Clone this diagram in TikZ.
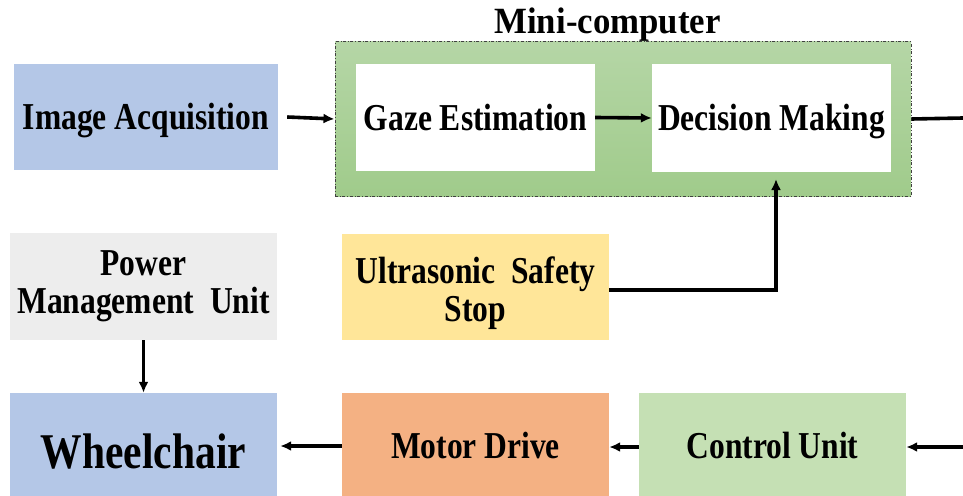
\documentclass[tikz,border=0pt]{standalone}
\usepackage{fontspec}
\setmainfont{Liberation Serif}[FakeStretch=0.83]
\newfontfamily\titlefont{Liberation Serif}[FakeStretch=0.94]
\usetikzlibrary{arrows.meta}
\definecolor{cblue}{HTML}{B4C7E7}
\definecolor{cgray}{HTML}{EDEDED}
\definecolor{cyellow}{HTML}{FFE699}
\definecolor{corange}{HTML}{F4B183}
\definecolor{cgreen}{HTML}{C5E0B4}
\definecolor{gtop}{HTML}{B5D6A6}
\definecolor{gbot}{HTML}{A0CB8B}
\begin{document}
\begin{tikzpicture}[x=1pt,y=-1pt,
  blk/.style={inner sep=0pt, align=center, font=\fontsize{38}{38}\selectfont\bfseries},
  one/.style={text height=25pt, text depth=0pt},
  low/.style={text height=22pt, text depth=0pt},
  arr/.style={line width=3.6pt, -{Latex[length=11pt,width=10pt]}},
  ln/.style={line width=3.6pt}]
\useasboundingbox (0,0) rectangle (963,495);
% mini-computer container
\node[draw=black!75, dash dot, line width=1pt, top color=gtop, bottom color=gbot,
      minimum width=576pt, minimum height=154pt, inner sep=0pt] (mini) at (623,119) {};
\node[anchor=base, inner sep=0pt, font=\titlefont\fontsize{37}{37}\selectfont\bfseries] (title) at (607.5,34) {Mini-computer};
% blocks
\node[blk, one, fill=cblue, minimum width=264pt, minimum height=106pt] (ia) at (146,117) {Image Acquisition};
\node[blk, one, fill=white, minimum width=239pt, minimum height=107pt] (gaze) at (475.5,117.5) {Gaze Estimation};
\node[blk, one, fill=white, minimum width=239pt, minimum height=108pt] (dm) at (771.5,118) {Decision Making};
\node[blk, fill=cgray, minimum width=267pt, minimum height=107pt] (pmu) at (143.5,286.5) {Power\\Management\ \ Unit};
\node[blk, fill=cyellow, minimum width=267pt, minimum height=106pt,
      label={[blk, yshift=-6pt]center:{Ultrasonic\ \ Safety\\Stop}}] (uss) at (475.5,287) {};
\node[blk, fill=cblue, minimum width=267pt, minimum height=108pt, text height=42pt, text depth=0pt,
      font=\fontsize{50}{50}\selectfont\bfseries] (wc) at (143.5,447) {Wheelchair};
\node[blk, low, fill=corange, minimum width=267pt, minimum height=108pt] (md) at (475.5,447) {Motor Drive};
\node[blk, low, fill=cgreen, minimum width=267pt, minimum height=108pt] (cu) at (772.5,447) {Control Unit};
% free ends
\coordinate (outR) at (963,118);
\coordinate (inR) at (963,447);
\coordinate (tipA) at (776,179);
% connectors
\draw[arr] ([xshift=9pt]ia.east) -- (mini.west);
\draw[arr] (gaze.east) -- (dm.west);
\draw[ln] (mini.east) -- (outR);
\draw[arr] ([yshift=-3pt]uss.east) -| (tipA);
\draw[arr] (pmu.south) -- (wc.north);
\draw[arr] ([yshift=1pt]md.west) -- ([xshift=3pt,yshift=1pt]wc.east);
\draw[arr] (cu.west) -- (md.east);
\draw[arr] (inR) -- (cu.east);
\end{tikzpicture}
\end{document}
